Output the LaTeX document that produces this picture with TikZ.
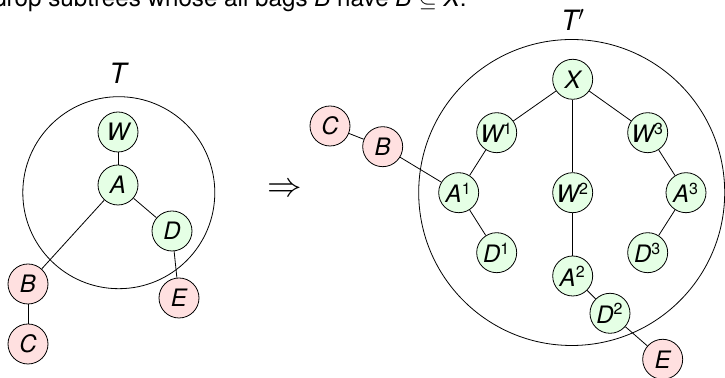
\documentclass[tikz,border=0pt]{standalone}
\usepackage{fontspec}
\setmainfont{TeX Gyre Heros}
\usetikzlibrary{positioning}

\begin{document}
\begin{tikzpicture}[x=0.5pt,y=-0.5pt]
\tikzset{
  bag/.style={circle,draw,minimum size=20pt,inner sep=0pt,font=\fontsize{12}{14}\selectfont\itshape},
  keptbag/.style={bag,fill=green!10},
  droppedbag/.style={bag,fill=red!12},
  treelabel/.style={font=\fontsize{14}{16}\selectfont\itshape},
  edge/.style={thin}
}
\useasboundingbox (0,0) rectangle (725,378);
\clip (0,0) rectangle (725,378);
\node[anchor=base east,inner sep=0pt,font=\fontsize{12.1}{14}\selectfont] (caption) at (467,7) {drop subtrees whose all bags \textit{B} have \textit{B} $\subseteq$ \textit{X}.};
\draw (118.8,192.7) circle (96);
\node[treelabel] (lab_T) at (118,73) {T};
\node[keptbag] (n_W) at (118,132) {W};
\node[keptbag] (n_A) at (118,185) {A};
\node[keptbag] (n_D) at (172,231) {D};
\node[droppedbag] (n_B) at (28,284) {B};
\node[droppedbag] (n_C) at (28,344) {C};
\node[droppedbag] (n_E) at (179,298) {E};
\draw[edge] (n_W) -- (n_A);
\draw[edge] (n_A) -- (n_D);
\draw[edge] (n_A) -- (n_B);
\draw[edge] (n_D) -- (n_E);
\draw[edge] (n_B) -- (n_C);
\node[font=\fontsize{16}{18}\selectfont] (implies) at (285,190) {$\Rightarrow$};
\draw (571.7,192.5) circle (153);
\node[treelabel] (lab_Tp) at (573,20) {T$'$};
\node[keptbag] (n_X) at (572.7,79.3) {X};
\node[keptbag] (n_W1) at (496.7,132.7) {W\textsuperscript{\upshape 1}};
\node[keptbag] (n_W2) at (572.7,192.7) {W\textsuperscript{\upshape 2}};
\node[keptbag] (n_W3) at (647.7,132.7) {W\textsuperscript{\upshape 3}};
\node[keptbag] (n_A1) at (458.7,192.7) {A\textsuperscript{\upshape 1}};
\node[keptbag] (n_A2) at (572.7,276) {A\textsuperscript{\upshape 2}};
\node[keptbag] (n_A3) at (686,192.7) {A\textsuperscript{\upshape 3}};
\node[keptbag] (n_D1) at (496.7,252.7) {D\textsuperscript{\upshape 1}};
\node[keptbag] (n_D2) at (610,313.3) {D\textsuperscript{\upshape 2}};
\node[keptbag] (n_D3) at (647.7,252.7) {D\textsuperscript{\upshape 3}};
\node[droppedbag] (n_Cp) at (330,126) {C};
\node[droppedbag] (n_Bp) at (382.7,146.7) {B};
\node[droppedbag] (n_Ep) at (662.7,359.3) {E};
\draw[edge] (n_X) -- (n_W1);
\draw[edge] (n_X) -- (n_W2);
\draw[edge] (n_X) -- (n_W3);
\draw[edge] (n_W1) -- (n_A1);
\draw[edge] (n_A1) -- (n_D1);
\draw[edge] (n_W2) -- (n_A2);
\draw[edge] (n_A2) -- (n_D2);
\draw[edge] (n_D2) -- (n_Ep);
\draw[edge] (n_W3) -- (n_A3);
\draw[edge] (n_A3) -- (n_D3);
\draw[edge] (n_Cp) -- (n_Bp);
\draw[edge] (n_Bp) -- (n_A1);
\end{tikzpicture}
\end{document}
